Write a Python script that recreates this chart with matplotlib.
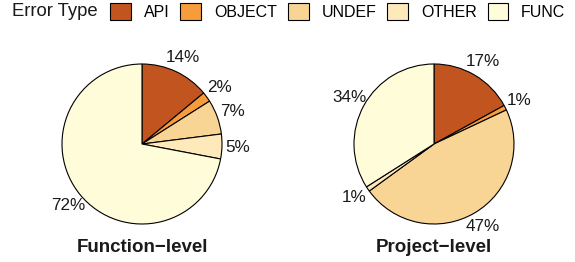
import matplotlib
matplotlib.use("Agg")
import matplotlib.pyplot as plt
from matplotlib.patches import Patch

plt.rcParams['font.family'] = ['Liberation Sans', 'DejaVu Sans']

categories = ["API", "OBJECT", "UNDEF", "OTHER", "FUNC"]
function_level = [14, 2, 7, 5, 72]
project_level = [17, 1, 47, 1, 34]
titles = ["Function\u2212level", "Project\u2212level"]
colors = ["#C2551F", "#F69C3C", "#F9D595", "#FDE9BA", "#FFFCDA"]

W, H = 575, 262
fig = plt.figure(figsize=(W / 100, H / 100), dpi=100)

R = 80  # pie radius in px
centers = [(142, 144), (434, 144)]

for (cx, cy), vals, title in zip(centers, [function_level, project_level], titles):
    ax = fig.add_axes([(cx - R) / W, (H - cy - R) / H, 2 * R / W, 2 * R / H])
    ax.pie(vals, colors=colors, startangle=90, counterclock=False,
           autopct=lambda p: f"{p:.0f}%", pctdistance=1.2,
           wedgeprops=dict(edgecolor="black", linewidth=0.8),
           textprops=dict(fontsize=12.3, color="#1a1a1a"))
    ax.set_xlim(-1, 1)
    ax.set_ylim(-1, 1)
    ax.set_aspect("equal")
    ax.axis("off")
    fig.text(cx / W, 1 - 247 / H, title, ha="center", va="center",
             fontsize=13.5, fontweight="bold", color="#1a1a1a")

fig.text(12.5 / W, 1 - 11.5 / H, "Error Type", ha="left", va="center",
         fontsize=13.3, color="#1a1a1a")
handles = [Patch(facecolor=c, edgecolor="black", linewidth=0.8) for c in colors]
fig.legend(handles, categories, ncol=5, loc="center left",
           bbox_to_anchor=(110 / W, 1 - 11.5 / H), frameon=False,
           borderaxespad=0, borderpad=0, fontsize=11.5,
           handlelength=1.31, handleheight=1.19, handletextpad=0.8,
           columnspacing=0.68)

fig.savefig("out.png", dpi=100)
